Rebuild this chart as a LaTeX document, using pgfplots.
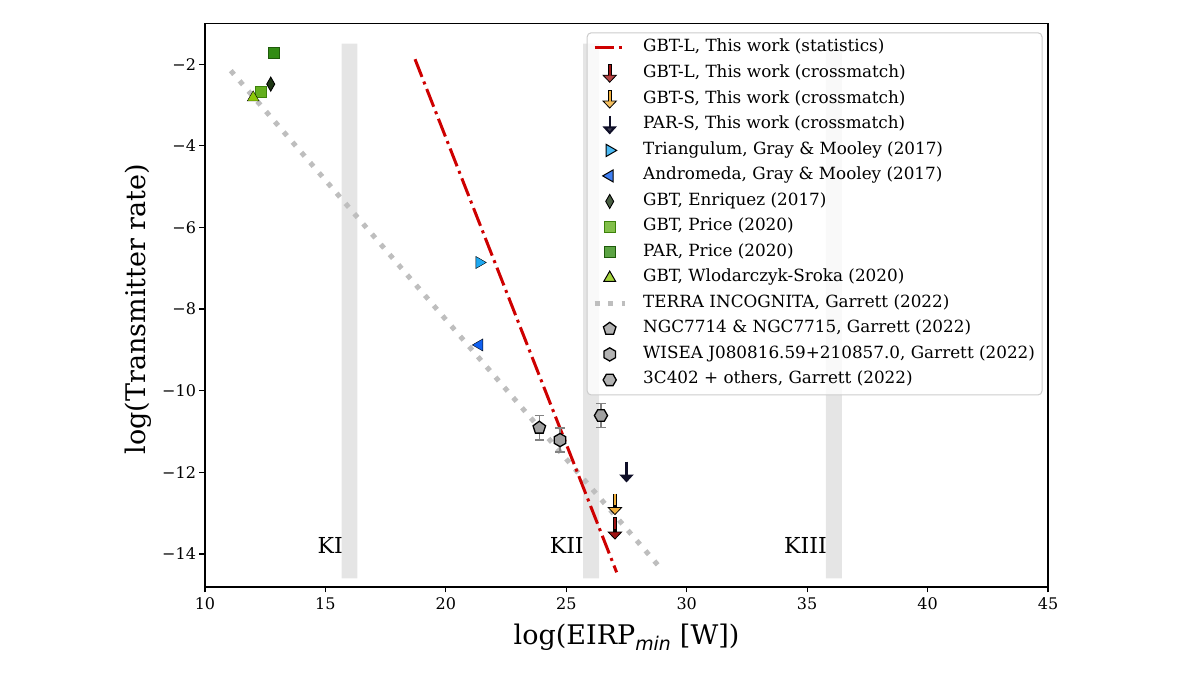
\documentclass[border=0pt]{standalone}
\usepackage{fontspec}
\setmainfont{DejaVu Serif}
\newfontfamily\subfont{DejaVu Sans}
\usepackage{pgfplots}
\pgfplotsset{compat=1.18}
\usetikzlibrary{arrows.meta}

\definecolor{myred}{RGB}{206,0,0}
\definecolor{arrowred}{RGB}{160,20,20}
\definecolor{arroworange}{RGB}{240,175,60}
\definecolor{arrowblack}{RGB}{15,15,40}
\definecolor{triA}{RGB}{30,168,240}
\definecolor{triB}{RGB}{16,96,240}
\definecolor{enriq}{RGB}{30,55,20}
\definecolor{gbtprice}{RGB}{100,175,30}
\definecolor{gbtpriceedge}{RGB}{60,130,10}
\definecolor{parprice}{RGB}{50,140,20}
\definecolor{parpriceedge}{RGB}{30,90,10}
\definecolor{wlod}{RGB}{140,200,10}
\definecolor{terra}{RGB}{190,190,190}
\definecolor{garfill}{RGB}{160,160,160}
\definecolor{garerr}{RGB}{130,130,130}
\definecolor{band}{RGB}{229,229,229}

\pgfdeclareplotmark{hexagon*}{%
 \pgfpathmoveto{\pgfpointpolar{90}{\pgfplotmarksize}}%
 \pgfpathlineto{\pgfpointpolar{150}{\pgfplotmarksize}}%
 \pgfpathlineto{\pgfpointpolar{210}{\pgfplotmarksize}}%
 \pgfpathlineto{\pgfpointpolar{270}{\pgfplotmarksize}}%
 \pgfpathlineto{\pgfpointpolar{330}{\pgfplotmarksize}}%
 \pgfpathlineto{\pgfpointpolar{30}{\pgfplotmarksize}}%
 \pgfpathclose\pgfusepathqfillstroke}
\pgfdeclareplotmark{Hexagon*}{%
 \pgfpathmoveto{\pgfpointpolar{0}{\pgfplotmarksize}}%
 \pgfpathlineto{\pgfpointpolar{60}{\pgfplotmarksize}}%
 \pgfpathlineto{\pgfpointpolar{120}{\pgfplotmarksize}}%
 \pgfpathlineto{\pgfpointpolar{180}{\pgfplotmarksize}}%
 \pgfpathlineto{\pgfpointpolar{240}{\pgfplotmarksize}}%
 \pgfpathlineto{\pgfpointpolar{300}{\pgfplotmarksize}}%
 \pgfpathclose\pgfusepathqfillstroke}

\pgfplotsset{
 lineleg/.style={legend image code/.code={\draw[##1] (0pt,0pt) -- (30pt,0pt);}},
 markleg/.style={legend image code/.code={\draw[##1] plot coordinates {(15pt,0pt)};}},
 arrowleg/.style={legend image code/.code={%
   \draw[black,line width=3.6pt,-{Triangle[width=15pt,length=8pt,fill=#1,line width=0.8pt]}] (15pt,9pt) -- (15pt,-9.5pt);
   \draw[#1,line width=1.9pt] (15pt,8.6pt) -- (15pt,-3pt);}},
 blackarrowleg/.style={legend image code/.code={%
   \draw[arrowblack,line width=2.4pt,-{Triangle[width=14pt,length=8pt]}] (15pt,9pt) -- (15pt,-9.5pt);}},
 garmark/.style={only marks, mark=#1, mark size=6.6pt,
   mark options={draw=black, fill=garfill, line width=1.3pt}},
}

\begin{document}
\begin{tikzpicture}
\path[use as bounding box] (-205pt,-101pt) rectangle (995pt,587pt);
\begin{axis}[
 scale only axis, width=843pt, height=563.7pt,
 xmin=10, xmax=45, ymin=-14.81, ymax=-1.0,
 xtick={10,15,20,25,30,35,40,45},
 xticklabels={10,15,20,25,30,35,40,45},
 ytick={-14,-12,-10,-8,-6,-4,-2},
 yticklabels={−14,−12,−10,−8,−6,−4,−2},
 tick align=outside, tick pos=left,
 major tick length=5.5pt,
 every tick/.style={black, line width=1.2pt},
 axis line style={line width=1.3pt},
 ticklabel style={font=\fontsize{16}{19}\selectfont},
 xticklabel style={yshift=-2pt},
 xlabel={log(EIRP\textsubscript{\subfont\itshape min} [W])},
 ylabel={log(Transmitter rate)},
 label style={font=\fontsize{27}{32}\selectfont},
 xlabel style={at={(axis description cs:0.5,-0.1016)}, anchor=base},
 ylabel style={at={(axis description cs:-0.0795,0.493)}, anchor=center},
 legend style={at={(0.4528,0.984)}, anchor=north west,
   draw=black!20, line width=1pt, rounded corners=4pt,
   fill=white, fill opacity=0.8, text opacity=1,
   font=\fontsize{16.8}{20}\selectfont,
   nodes={inner sep=2pt, text height=13pt, text depth=5pt},
   inner xsep=5pt, inner ysep=4pt,
   row sep=3.5pt, column sep=14pt},
 legend cell align=left,
 clip=false,
]
% K bands
\addplot[forget plot, fill=band, draw=none] coordinates {(15.67,-14.6) (16.33,-14.6) (16.33,-1.5) (15.67,-1.5) (15.67,-14.6)};
\addplot[forget plot, fill=band, draw=none] coordinates {(25.70,-14.6) (26.36,-14.6) (26.36,-1.5) (25.70,-1.5) (25.70,-14.6)};
\addplot[forget plot, fill=band, draw=none] coordinates {(35.78,-14.6) (36.44,-14.6) (36.44,-1.5) (35.78,-1.5) (35.78,-14.6)};
\node[anchor=base east, font=\fontsize{22}{26}\selectfont, inner sep=0pt] at (axis cs:15.73,-14.0) {KI};
\node[anchor=base east, font=\fontsize{22}{26}\selectfont, inner sep=0pt] at (axis cs:25.73,-14.0) {KII};
\node[anchor=base east, font=\fontsize{22}{26}\selectfont, inner sep=0pt] at (axis cs:35.82,-14.0) {KIII};

% TERRA INCOGNITA
\addplot[forget plot, terra, line width=5pt, dash pattern=on 5pt off 8.5pt] coordinates {(11.07,-2.16) (28.93,-14.36)};
% statistics line
\addplot[forget plot, myred, line width=3pt, dash pattern=on 19pt off 5pt on 3pt off 5pt] coordinates {(18.72,-1.88) (27.09,-14.45)};

% Garrett points
\addplot[forget plot, garmark=pentagon*, error bars/.cd, y dir=both, y explicit,
  error bar style={garerr, line width=1.5pt}, error mark options={garerr, rotate=90, mark size=4.6pt, line width=1.5pt}]
  coordinates {(23.88,-10.91) +- (0,0.30)};
\addplot[forget plot, garmark=hexagon*, error bars/.cd, y dir=both, y explicit,
  error bar style={garerr, line width=1.5pt}, error mark options={garerr, rotate=90, mark size=4.6pt, line width=1.5pt}]
  coordinates {(24.74,-11.21) +- (0,0.29)};
\addplot[forget plot, garmark=Hexagon*, error bars/.cd, y dir=both, y explicit,
  error bar style={garerr, line width=1.5pt}, error mark options={garerr, rotate=90, mark size=4.6pt, line width=1.5pt}]
  coordinates {(26.44,-10.61) +- (0,0.29)};

% other surveys
\addplot[forget plot, only marks, mark=triangle*, mark size=7pt, mark options={rotate=-90, draw=none, fill=triA}] coordinates {(21.39,-6.86)};
\addplot[forget plot, only marks, mark=triangle*, mark size=7pt, mark options={rotate=90, draw=none, fill=triB}] coordinates {(21.39,-8.88)};
\addplot[forget plot, only marks, mark=square*, mark size=5.5pt, mark options={draw=parpriceedge, fill=parprice, line width=0.9pt}] coordinates {(12.86,-1.73)};
\addplot[forget plot, only marks, mark=diamond*, mark size=7pt, mark options={xscale=0.76, draw=black, fill=enriq, line width=0.9pt}] coordinates {(12.73,-2.49)};
\addplot[forget plot, only marks, mark=square*, mark size=5.5pt, mark options={draw=gbtpriceedge, fill=gbtprice, line width=0.9pt}] coordinates {(12.32,-2.67)};
\addplot[forget plot, only marks, mark=triangle*, mark size=6.8pt, mark options={draw=none, fill=wlod}] coordinates {(12.0,-2.82)};

% arrows (this work, crossmatch)
\addplot[forget plot, black, line width=3.6pt, -{Triangle[width=15pt,length=8pt,fill=arroworange,line width=0.8pt]}] coordinates {(27.02,-12.52) (27.02,-13.05)};
\addplot[forget plot, arroworange, line width=1.9pt] coordinates {(27.02,-12.54) (27.02,-12.80)};
\addplot[forget plot, black, line width=3.6pt, -{Triangle[width=15pt,length=8pt,fill=arrowred,line width=0.8pt]}] coordinates {(27.02,-13.09) (27.02,-13.65)};
\addplot[forget plot, arrowred, line width=1.9pt] coordinates {(27.02,-13.11) (27.02,-13.40)};
\addplot[forget plot, arrowblack, line width=2.4pt, -{Triangle[width=14pt,length=8pt]}] coordinates {(27.5,-11.74) (27.5,-12.25)};

% legend
\addlegendimage{lineleg, myred, line width=3pt, dash pattern=on 19pt off 5pt on 3pt off 5pt}
\addlegendentry{GBT-L, This work (statistics)}
\addlegendimage{arrowleg=arrowred}
\addlegendentry{GBT-L, This work (crossmatch)}
\addlegendimage{arrowleg=arroworange}
\addlegendentry{GBT-S, This work (crossmatch)}
\addlegendimage{blackarrowleg}
\addlegendentry{PAR-S, This work (crossmatch)}
\addlegendimage{only marks, mark=triangle*, mark size=7pt, mark options={rotate=-90, draw=none, fill=triA}, markleg}
\addlegendentry{Triangulum, Gray \& Mooley (2017)}
\addlegendimage{only marks, mark=triangle*, mark size=7pt, mark options={rotate=90, draw=none, fill=triB}, markleg}
\addlegendentry{Andromeda, Gray \& Mooley (2017)}
\addlegendimage{only marks, mark=diamond*, mark size=7pt, mark options={xscale=0.76, draw=black, fill=enriq, line width=0.9pt}, markleg}
\addlegendentry{GBT, Enriquez (2017)}
\addlegendimage{only marks, mark=square*, mark size=5.5pt, mark options={draw=gbtpriceedge, fill=gbtprice, line width=0.9pt}, markleg}
\addlegendentry{GBT, Price (2020)}
\addlegendimage{only marks, mark=square*, mark size=5.5pt, mark options={draw=parpriceedge, fill=parprice, line width=0.9pt}, markleg}
\addlegendentry{PAR, Price (2020)}
\addlegendimage{only marks, mark=triangle*, mark size=6.8pt, mark options={draw=none, fill=wlod}, markleg}
\addlegendentry{GBT, Wlodarczyk-Sroka (2020)}
\addlegendimage{lineleg, terra, line width=5pt, dash pattern=on 5pt off 8.5pt}
\addlegendentry{TERRA INCOGNITA, Garrett (2022)}
\addlegendimage{garmark=pentagon*, markleg}
\addlegendentry{NGC7714 \& NGC7715, Garrett (2022)}
\addlegendimage{garmark=hexagon*, markleg}
\addlegendentry{WISEA J080816.59+210857.0, Garrett (2022)}
\addlegendimage{garmark=Hexagon*, markleg}
\addlegendentry{3C402 + others, Garrett (2022)}
\end{axis}
\end{tikzpicture}
\end{document}
